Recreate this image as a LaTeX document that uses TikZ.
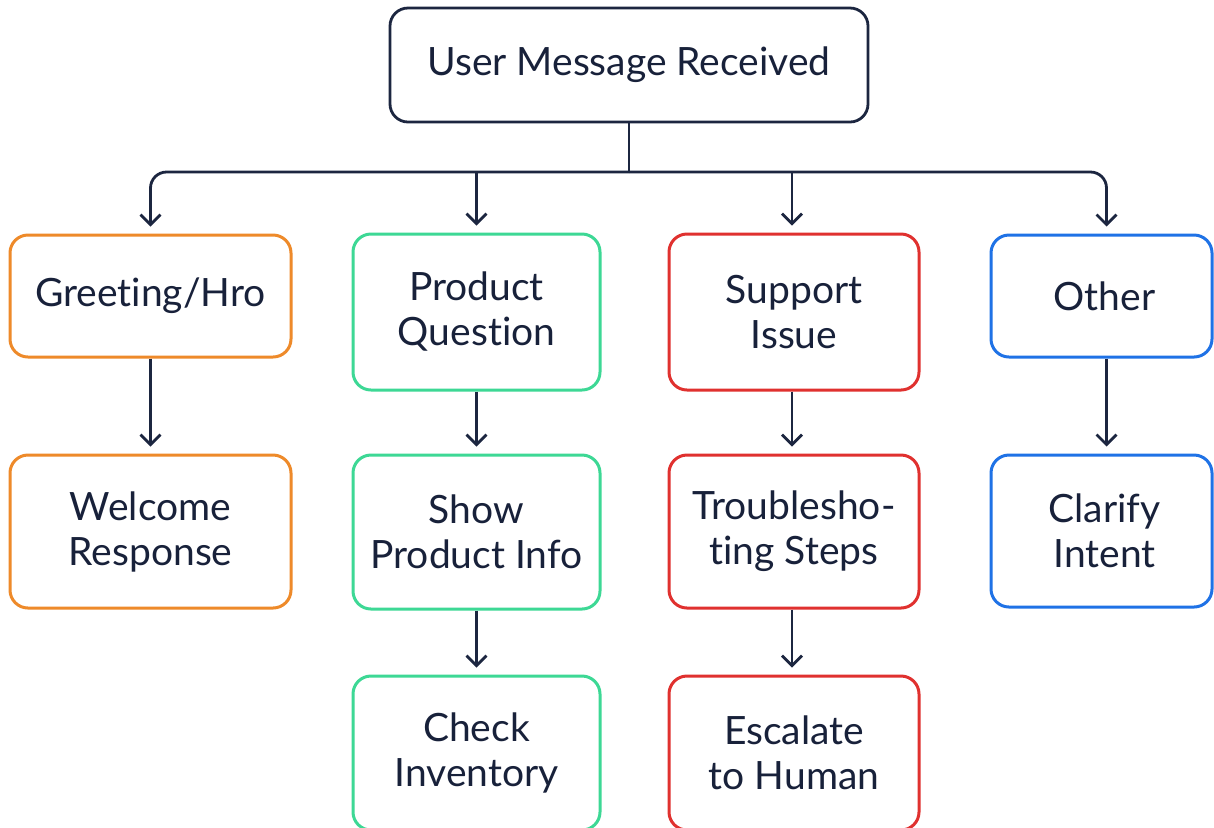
\documentclass[tikz,border=0pt]{standalone}
\usepackage{fontspec}
\setmainfont{Lato}[Ligatures={NoCommon}]
\usetikzlibrary{arrows.meta}
\definecolor{ink}{HTML}{18213A}
\definecolor{lin}{HTML}{1C2640}
\definecolor{corange}{HTML}{EE8A2A}
\definecolor{cgreen}{HTML}{3DD895}
\definecolor{cred}{HTML}{E0312F}
\definecolor{cblue}{HTML}{1F72E6}
\tikzset{
  box/.style={draw, line width=1.5pt, rounded corners=9pt, fill=white, text=ink,
    font=\fontsize{19.5pt}{22.5pt}\selectfont, align=center, inner sep=0pt},
  obox/.style={box, draw=corange},
  gbox/.style={box, draw=cgreen},
  rbox/.style={box, draw=cred},
  bbox/.style={box, draw=cblue},
  kbox/.style={box, draw=lin, line width=1.4pt},
  conn/.style={draw=lin, line width=1.4pt, -{Straight Barb[length=5pt,width=10pt,line width=1.4pt]}, shorten >=3.5pt},
}
\begin{document}
\begin{tikzpicture}[x=0.5pt,y=-0.5pt]
\fill[white] (0,0) rectangle (1214,827);
\useasboundingbox (0,0) rectangle (1214,827);
\node[kbox, minimum width=239pt, minimum height=57pt] (top) at (629,65) {User Message Received};
\node[obox, minimum width=140.5pt, minimum height=61pt] (greet) at (150.5,296) {Greeting/Hro};
\node[gbox, minimum width=123.5pt, minimum height=78pt] (prod) at (476.5,312) {Product\\Question};
\node[rbox, minimum width=125pt, minimum height=78pt] (supp) at (794,312) {Support\\Issue};
\node[bbox, minimum width=110.5pt, minimum height=61pt] (other) at (1101.5,296) {\hspace*{3pt}Other};
\node[obox, minimum width=140.5pt, minimum height=76.5pt] (welc) at (150.5,531.5) {Welcome\\Response};
\node[gbox, minimum width=123.5pt, minimum height=77pt] (show) at (476.5,532) {Show\\Product Info};
\node[rbox, minimum width=125pt, minimum height=76.5pt] (trbl) at (794,531.5) {Troublesho-\\ting Steps};
\node[bbox, minimum width=110.5pt, minimum height=76pt] (clar) at (1101.5,531) {\hspace*{3pt}Clarify\\\hspace*{3pt}Intent};
\node[gbox, minimum width=123.5pt, minimum height=77pt] (chk) at (476.5,753) {Check\\Inventory};
\node[rbox, minimum width=125pt, minimum height=77pt] (esc) at (794,753) {Escalate\\to Human};
\coordinate (bus) at (629,172);
\draw[draw=lin, line width=1.4pt] (top.south) -- (bus);
\draw[conn, rounded corners=8pt] (bus) -| (greet.north);
\draw[conn, rounded corners=8pt] (bus) -| ([xshift=2.5pt]other.north);
\draw[conn] (prod.north |- bus) -- (prod.north);
\draw[conn] ([xshift=-1pt]supp.north |- bus) -- ([xshift=-1pt]supp.north);
\draw[conn] (greet) -- (welc);
\draw[conn] (prod) -- (show);
\draw[conn] ([xshift=-1pt]supp.south) -- ([xshift=-1pt]trbl.north);
\draw[conn] ([xshift=2.5pt]other.south) -- ([xshift=2.5pt]clar.north);
\draw[conn] (show) -- (chk);
\draw[conn] ([xshift=-1pt]trbl.south) -- ([xshift=-1pt]esc.north);
\end{tikzpicture}
\end{document}
